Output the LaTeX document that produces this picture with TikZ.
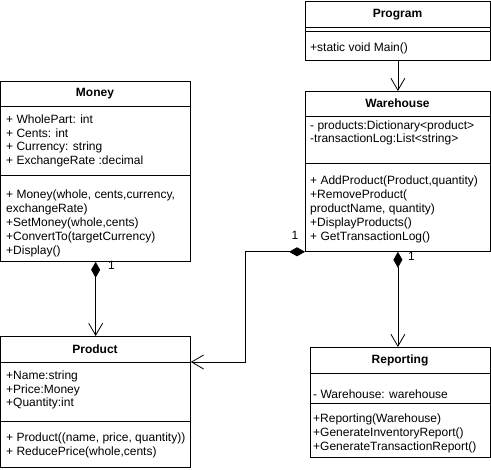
\documentclass[tikz,border=0pt]{standalone}
\usepackage{fontspec}
\setmainfont{Liberation Sans}
\usetikzlibrary{arrows.meta}
\begin{document}
\begin{tikzpicture}[x=1pt,y=-1pt,
  box/.style={draw,line width=0.8pt,inner sep=0pt,anchor=north west},
  classname/.style={font=\fontsize{12}{14}\selectfont\bfseries},
  members/.style={anchor=west,align=left,inner sep=0pt,font=\fontsize{12}{13.8}\selectfont},
  assoc/.style={line width=0.8pt,-{Straight Barb[length=12pt,width=14pt]}},
  comp/.style={line width=0.8pt,{Diamond[length=16pt,width=9pt]}-{Straight Barb[length=12pt,width=14pt]}},
  mult/.style={font=\fontsize{12}{14}\selectfont}]
\useasboundingbox (0,0) rectangle (491,470);

% Program
\node[box,minimum width=185,minimum height=59] (program) at (305,1) {};
\node[classname] (programname) at (397.5,14.5) {Program};
\draw[line width=0.8pt] (program.west |- 0,27.5) -- (program.east |- 0,27.5);
\draw[line width=0.8pt] (program.west |- 0,31) -- (program.east |- 0,31);
\node[members] (programops) at (310,48) {+static void Main()};

% Warehouse
\node[box,minimum width=185,minimum height=160] (warehouse) at (305,91) {};
\node[classname] (warehousename) at (397.5,103.5) {Warehouse};
\draw[line width=0.8pt] (warehouse.west |- 0,116) -- (warehouse.east |- 0,116);
\node[members] (warehouseattrs) at (310,133) {- products:Dictionary<product>\\-transactionLog:List<string>};
\draw[line width=0.8pt] (warehouse.west |- 0,163) -- (warehouse.east |- 0,163);
\node[members] (warehouseops) at (310,209.5) {+ AddProduct(Product,quantity)\\+RemoveProduct(\\productName, quantity)\\+DisplayProducts()\\+ GetTransactionLog()};

% Money
\node[box,minimum width=189.5,minimum height=180] (money) at (0.5,81) {};
\node[classname] (moneyname) at (95,93.5) {Money};
\draw[line width=0.8pt] (money.west |- 0,106) -- (money.east |- 0,106);
\node[members] (moneyattrs) at (6,141) {+ WholePart: int\\+ Cents: int\\+ Currency: string\\+ ExchangeRate :decimal};
\draw[line width=0.8pt] (money.west |- 0,175) -- (money.east |- 0,175);
\node[members] (moneyops) at (6,223.5) {+ Money(whole, cents,currency,\\exchangeRate)\\+SetMoney(whole,cents)\\+ConvertTo(targetCurrency)\\+Display()};

% Product
\node[box,minimum width=189.5,minimum height=131] (product) at (0.5,336) {};
\node[classname] (productname) at (95,349) {Product};
\draw[line width=0.8pt] (product.west |- 0,362) -- (product.east |- 0,362);
\node[members] (productattrs) at (6,390) {+Name:string\\+Price:Money\\+Quantity:int};
\draw[line width=0.8pt] (product.west |- 0,421) -- (product.east |- 0,421);
\node[members] (productops) at (6,445.5) {+ Product((name, price, quantity))\\+ ReducePrice(whole,cents)};

% Reporting
\node[box,minimum width=180,minimum height=110] (reporting) at (310,347) {};
\node[classname] (reportingname) at (400,360) {Reporting};
\draw[line width=0.8pt] (reporting.west |- 0,373) -- (reporting.east |- 0,373);
\node[members] (reportingattrs) at (313,394) {- Warehouse: warehouse};
\draw[line width=0.8pt] (reporting.west |- 0,403) -- (reporting.east |- 0,403);
\node[members] (reportingops) at (313,433.5) {+Reporting(Warehouse)\\+GenerateInventoryReport()\\+GenerateTransactionReport()};

% relations
\coordinate (productin) at (product.east |- 0,362);
\draw[assoc] (program.south) -- (warehouse.north);
\draw[comp] (money.south) -- (product.north);
\draw[comp] (warehouse.south) -- (warehouse.south |- reporting.north);
\draw[comp] (warehouse.south west) -- ++(-60,0) |- (productin);
\node[mult] (moneymult) at (111.5,265) {1};
\node[mult] (reportmult) at (411.5,256) {1};
\node[mult] (productmult) at (295,235) {1};
\end{tikzpicture}
\end{document}
